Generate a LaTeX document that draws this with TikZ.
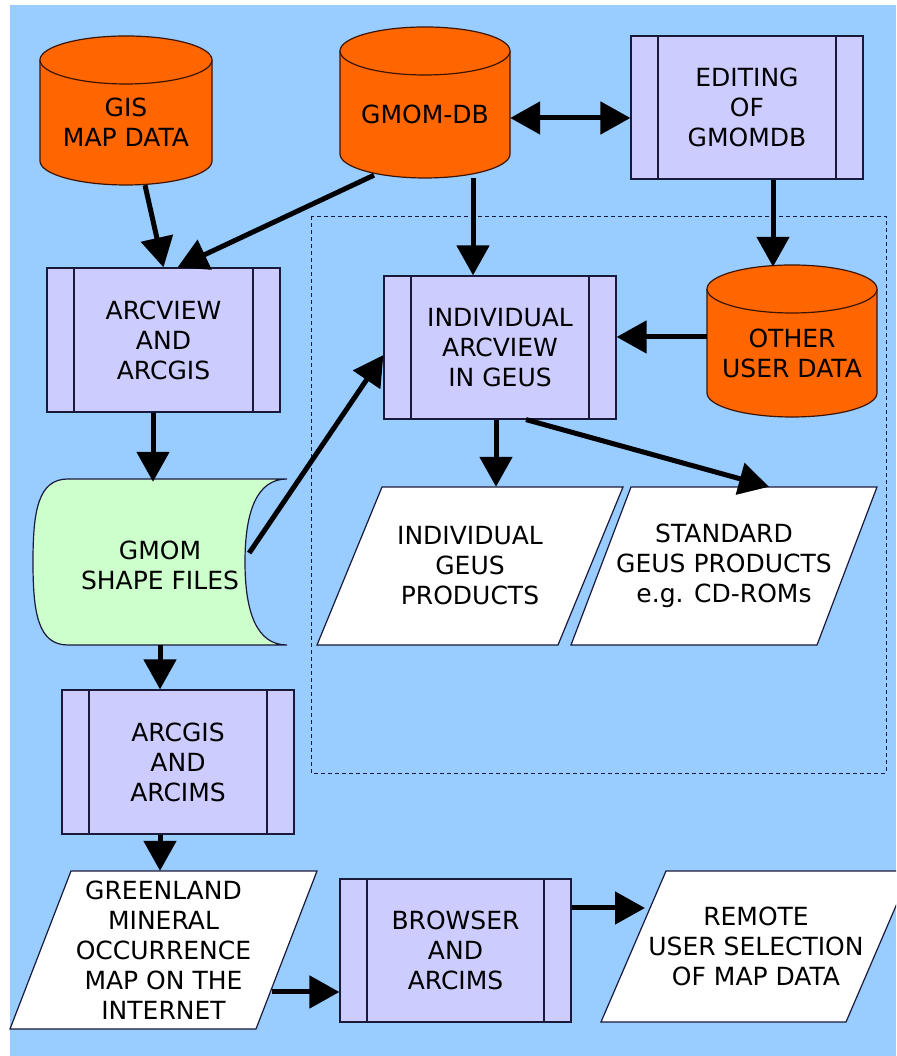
\documentclass[tikz,border=0pt]{standalone}
\usepackage{fontspec}
\setmainfont{DejaVu Sans}
\usetikzlibrary{arrows.meta,calc}
\definecolor{bgblue}{RGB}{153,204,255}
\definecolor{cylor}{RGB}{255,102,0}
\definecolor{procfill}{RGB}{204,204,255}
\definecolor{storefill}{RGB}{204,255,204}
\definecolor{edgec}{RGB}{25,25,60}
\definecolor{cyledge}{RGB}{60,20,0}
\tikzset{
  lbl/.style={font=\fontsize{25}{30}\selectfont, align=center, text=black, inner sep=0pt},
  procbox/.style={lbl, draw=edgec, line width=1.2pt, fill=procfill,
    minimum width=232pt, minimum height=143pt,
    path picture={\draw[edgec, line width=1.2pt]
      ([xshift=27pt]path picture bounding box.north west) -- ([xshift=27pt]path picture bounding box.south west)
      ([xshift=-27pt]path picture bounding box.north east) -- ([xshift=-27pt]path picture bounding box.south east);}},
  iobox/.style={lbl, minimum height=158pt},
  iofill/.style={draw=edgec, line width=1.2pt, fill=white},
  cyltext/.style={lbl},
  arr/.style={line width=5pt, draw=black, -{Triangle[length=30pt,width=32pt]}},
  dblarr/.style={line width=5pt, draw=black, {Triangle[length=30pt,width=32pt]}-{Triangle[length=30pt,width=32pt]}},
  cylbody/.style={fill=cylor},
  cylline/.style={draw=cyledge, line width=1.2pt},
  frame/.style={draw=edgec, line width=0.8pt, dash pattern=on 4pt off 3pt}
}
% #1 cx, #2 y of top ellipse centre, #3 y of lowest point, #4 half width
\newcommand\drawcyl[4]{%
  \fill[cylbody] ({#1-#4},#2) -- ({#1-#4},{#3+24}) arc[start angle=180,end angle=360,x radius=#4,y radius=24] -- ({#1+#4},#2) -- cycle;
  \draw[cylline] ({#1-#4},#2) -- ({#1-#4},{#3+24}) arc[start angle=180,end angle=360,x radius=#4,y radius=24] -- ({#1+#4},#2);
  \filldraw[cylbody, cylline] (#1,#2) ellipse[x radius=#4, y radius=24];
}
% #1 cx, #2 cy, #3 width, #4 height, #5 slant
\newcommand\drawpara[5]{%
  \filldraw[iofill] ({#1-#3/2},{#2-#4/2}) -- ({#1+#3/2-#5},{#2-#4/2}) -- ({#1+#3/2},{#2+#4/2}) -- ({#1-#3/2+#5},{#2+#4/2}) -- cycle;
}
\begin{document}
\begin{tikzpicture}[x=1pt,y=1pt]
\useasboundingbox (0,0) rectangle (896,1056);
\clip (0,0) rectangle (896,1056);
\fill[white] (0,0) rectangle (896,1056);
\fill[bgblue] (10,0) rectangle (896,1051);
\draw[frame] (311,840) rectangle (886,283);

% cylinders
\drawcyl{126}{996}{871}{86}
\drawcyl{425}{1005}{878}{85}
\drawcyl{792}{767}{639}{85}
\node[cyltext, minimum width=172pt, minimum height=125pt] (gis) at (126,933.5) {GIS\\MAP DATA};
\node[cyltext, minimum width=170pt, minimum height=127pt] (gmom) at (425,941.5) {GMOM-DB};
\node[cyltext, minimum width=170pt, minimum height=128pt] (other) at (792,703) {OTHER\\USER DATA};

% process boxes
\node[procbox] (editing) at (747,948.5) {EDITING\\OF\\GMOMDB};
\node[procbox, minimum width=233pt, minimum height=144pt] (arcview) at (163.5,716) {ARCVIEW\\AND\\ARCGIS};
\node[procbox] (indiv) at (500,708.5) {INDIVIDUAL\\ARCVIEW\\IN GEUS};
\node[procbox, minimum height=144pt] (arcgis) at (178,294) {ARCGIS\\AND\\ARCIMS};
\node[procbox, minimum width=231pt] (browser) at (455.5,105.5) {BROWSER\\AND\\ARCIMS};

% stored data
\draw[edgec, line width=1.2pt, fill=storefill] (68,577) -- (287,577)
  .. controls (257,577) and (245,545) .. (245,494)
  .. controls (245,443) and (257,411) .. (287,411) -- (68,411)
  .. controls (38,411) and (33,443) .. (33,494)
  .. controls (33,545) and (38,577) .. (68,577) -- cycle;
\node[lbl, minimum width=254pt, minimum height=166pt] (shape) at (160,491) {GMOM\\SHAPE FILES};

% input/output
\drawpara{470}{490}{306}{158}{65}
\drawpara{724}{490}{306}{158}{60}
\drawpara{163.5}{106}{307}{158}{61}
\drawpara{756}{109.5}{310}{151}{65}
\node[iobox, minimum width=306pt] (indprod) at (470,490) {INDIVIDUAL\\GEUS\\PRODUCTS};
\node[iobox, minimum width=306pt] (standard) at (724,490) {STANDARD\\GEUS PRODUCTS\\e.g. CD-ROMs};
\node[iobox, minimum width=307pt] (green) at (163.5,106) {GREENLAND\\MINERAL\\OCCURRENCE\\MAP ON THE\\INTERNET};
\node[iobox, minimum width=310pt, minimum height=151pt] (remote) at (756,109.5) {REMOTE\\USER SELECTION\\OF MAP DATA};

% helper coordinates
\coordinate (ge) at ([yshift=-3.5pt]gmom.east);
\coordinate (a9) at ([xshift=-4pt]indiv.south);
\coordinate (a12) at ([xshift=-18pt]arcgis.south);
\coordinate (a13) at ([yshift=-41.5pt]browser.west);
\coordinate (a14) at ([yshift=42.5pt]browser.east);
\coordinate (remin) at ([xshift=-111pt]remote.center);

% connectors
\draw[arr] ([xshift=19pt]gis.south) -- (arcview.north);
\draw[arr] ([xshift=-51pt,yshift=3pt]gmom.south) -- ([xshift=14pt]arcview.north);
\draw[dblarr] (ge) -- (ge -| editing.west);
\draw[arr] ([xshift=48pt]gmom.south) -- ([xshift=-27pt]indiv.north);
\draw[arr] ([xshift=26pt]editing.south) -- ([xshift=-19pt,yshift=22pt]other.north);
\draw[arr] ([yshift=16pt]other.west) -- ([yshift=10.5pt]indiv.east);
\draw[arr] ([xshift=-10.5pt]arcview.south) -- ([xshift=-7pt]shape.north);
\draw[arr] ([xshift=-38pt,yshift=12pt]shape.east) -- ([yshift=-7.5pt]indiv.west);
\draw[arr] (a9) -- (a9 |- indprod.north);
\draw[arr] ([xshift=26pt]indiv.south) -- ([xshift=45pt]standard.north);
\draw[arr] ([yshift=3pt]shape.south) -- (shape.south |- arcgis.north);
\draw[arr] (a12) -- (a12 |- green.north);
\draw[arr] ([xshift=108pt,yshift=-42pt]green.center) -- (a13);
\draw[arr] (a14) -- (a14 -| remin);
\end{tikzpicture}
\end{document}
